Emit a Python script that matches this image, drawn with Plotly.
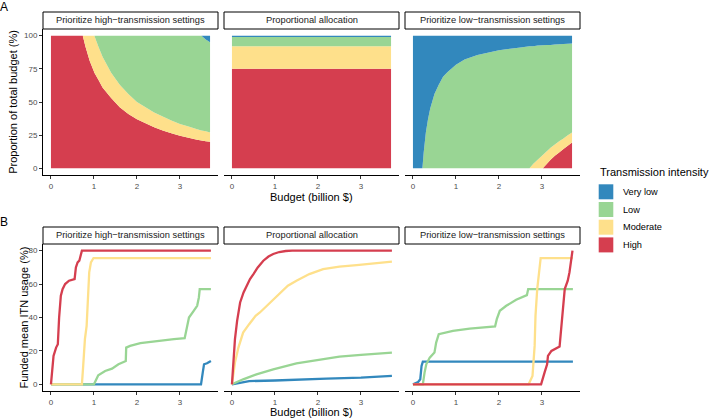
import plotly.graph_objects as go

# Transmission-intensity groups and their colours (Spectral palette)
groups = ['Very low', 'Low', 'Moderate', 'High']
colors = {'Very low': '#3288BD', 'Low': '#99D594', 'Moderate': '#FEE08B', 'High': '#D53E4F'}
strategies = ['Prioritize high\u2212transmission settings',
              'Proportional allocation',
              'Prioritize low\u2212transmission settings']

# ---- Panel A: share of total budget (%) by budget (billion $) ----
budget_a_hi = [0, 0.2, 0.4, 0.6, 0.74, 0.8, 0.9, 1.0, 1.01, 1.1, 1.2, 1.4, 1.6, 1.8, 2.0, 2.2, 2.4,
               2.6, 2.8, 3.0, 3.2, 3.4, 3.5, 3.6, 3.7]
share_hi_high = [100, 100, 100, 100, 100, 92, 81, 73, 72, 67, 61, 53, 46, 41, 37, 34, 31,
                 28.5, 26.5, 24.5, 23, 21.5, 21, 20.5, 20]
share_hi_mod = [0, 0, 0, 0, 0, 8, 19, 27, 28, 25, 23, 19, 17, 15, 13, 12, 11,
                10.5, 9.5, 9, 8.5, 8, 7.5, 7.5, 7]
share_hi_low = [0, 0, 0, 0, 0, 0, 0, 0, 0, 8, 16, 28, 37, 44, 50, 54, 58,
                61, 64, 66.5, 68.5, 70.5, 71.5, 69, 68]
share_hi_vlow = [0, 0, 0, 0, 0, 0, 0, 0, 0, 0, 0, 0, 0, 0, 0, 0, 0,
                 0, 0, 0, 0, 0, 0, 3, 5]

budget_a_prop = [0, 3.7]
share_prop_high = [75, 75]
share_prop_mod = [17, 17]
share_prop_low = [7, 7]
share_prop_vlow = [1, 1]

budget_a_lo = [0, 0.22, 0.25, 0.3, 0.35, 0.4, 0.5, 0.6, 0.7, 0.8, 1.0, 1.2, 1.5, 2.0, 2.5, 2.71,
               2.8, 2.9, 3.02, 3.1, 3.2, 3.3, 3.4, 3.5, 3.6, 3.7]
share_lo_vlow = [100, 100, 88, 73, 63, 55, 44, 37, 31, 27.5, 22, 18, 14.5, 11, 9, 8,
                 8, 7.5, 7.3, 7, 7, 6.7, 6.5, 6.3, 6.1, 6]
share_lo_low = [0, 0, 12, 27, 37, 45, 56, 63, 69, 72.5, 78, 82, 85.5, 89, 91, 92,
                88.5, 86, 82.7, 80.5, 77.5, 75.3, 73, 71.2, 68.9, 67]
share_lo_mod = [0, 0, 0, 0, 0, 0, 0, 0, 0, 0, 0, 0, 0, 0, 0, 0,
                3.5, 6.5, 10, 9.5, 9, 8.5, 8.5, 8, 8, 7.5]
share_lo_high = [0, 0, 0, 0, 0, 0, 0, 0, 0, 0, 0, 0, 0, 0, 0, 0,
                 0, 0, 0, 3, 6.5, 9.5, 12, 14.5, 17, 19.5]

# ---- Panel B: funded mean ITN usage (%) by budget (billion $) ----
b1_vlow_x = [0, 3.49, 3.53, 3.56, 3.63, 3.72]
b1_vlow_y = [0, 0, 7, 12, 12.6, 14]
b1_low_x = [0, 1.0, 1.1, 1.26, 1.42, 1.57, 1.69, 1.74, 1.75, 1.84, 2.08, 2.47, 2.86, 3.11, 3.15,
            3.21, 3.32, 3.4, 3.44, 3.46, 3.72]
b1_low_y = [0, 0, 5.4, 8, 9.4, 12, 13.4, 14, 22, 23, 24.6, 26, 27, 27.6, 32,
            40, 44, 47, 52, 57, 57]
b1_mod_x = [0, 0.72, 0.75, 0.79, 0.83, 0.86, 0.89, 0.93, 0.99, 3.72]
b1_mod_y = [0, 0, 11, 27, 35, 51, 67, 73, 75.6, 75.6]
b1_high_x = [0, 0.03, 0.06, 0.12, 0.16, 0.19, 0.23, 0.27, 0.33, 0.42, 0.55, 0.58, 0.62, 0.66,
             0.69, 0.72, 3.72]
b1_high_y = [0, 10, 17, 22, 24, 40, 53, 57, 60, 62, 63, 70, 73, 74, 78, 80, 80]

b2_vlow_x = [0, 0.2, 0.34, 0.4, 1.0, 2.12, 2.2, 3.0, 3.72]
b2_vlow_y = [0, 0.8, 1.4, 1.9, 2.3, 3, 3.4, 4, 5]
b2_low_x = [0, 0.26, 0.57, 0.96, 1.5, 1.97, 2.1, 2.28, 2.5, 3.0, 3.72]
b2_low_y = [0, 3, 6, 9, 12.6, 14.4, 15.2, 15.6, 16.6, 17.6, 19]
b2_mod_x = [0, 0.07, 0.15, 0.26, 0.4, 0.55, 0.65, 0.85, 1.12, 1.3, 1.5, 1.8, 2.12, 2.5, 2.9, 3.3, 3.72]
b2_mod_y = [0, 13, 22, 31, 36, 41, 43, 48, 55, 59, 62, 66, 69, 70.5, 71.4, 72.3, 73.4]
b2_high_x = [0, 0.03, 0.07, 0.12, 0.19, 0.27, 0.34, 0.42, 0.5, 0.6, 0.73, 0.85, 0.96, 1.1, 1.25,
             1.4, 3.72]
b2_high_y = [0, 14, 27, 38, 49, 55, 59, 63, 66, 70, 74, 76.5, 78, 79.2, 79.8, 80, 80]

b3_vlow_x = [0, 0.12, 0.17, 0.2, 0.23, 3.72]
b3_vlow_y = [0, 1.4, 3, 11, 13.6, 13.6]
b3_low_x = [0, 0.23, 0.27, 0.31, 0.39, 0.5, 0.54, 0.6, 0.93, 1.32, 1.91, 1.95, 2.02, 2.17, 2.4,
            2.65, 2.68, 3.72]
b3_low_y = [0, 0, 7, 12, 16, 19, 25, 30, 32, 33.4, 34.6, 39, 44, 47, 50.6, 53.4, 57, 57]
b3_mod_x = [0, 2.69, 2.78, 2.83, 2.85, 2.89, 2.97, 3.72]
b3_mod_y = [0, 0, 5, 23, 41, 57, 75.6, 75.6]
b3_high_x = [0, 2.98, 3.06, 3.12, 3.14, 3.22, 3.41, 3.49, 3.53, 3.6, 3.64, 3.71]
b3_high_y = [0, 0, 7, 12, 17, 20, 22.6, 47, 57, 62, 67, 80]

area_data = [
    (budget_a_hi, {'High': share_hi_high, 'Moderate': share_hi_mod, 'Low': share_hi_low, 'Very low': share_hi_vlow}),
    (budget_a_prop, {'High': share_prop_high, 'Moderate': share_prop_mod, 'Low': share_prop_low, 'Very low': share_prop_vlow}),
    (budget_a_lo, {'High': share_lo_high, 'Moderate': share_lo_mod, 'Low': share_lo_low, 'Very low': share_lo_vlow}),
]
line_data = [
    {'Very low': (b1_vlow_x, b1_vlow_y), 'Low': (b1_low_x, b1_low_y), 'Moderate': (b1_mod_x, b1_mod_y), 'High': (b1_high_x, b1_high_y)},
    {'Very low': (b2_vlow_x, b2_vlow_y), 'Low': (b2_low_x, b2_low_y), 'Moderate': (b2_mod_x, b2_mod_y), 'High': (b2_high_x, b2_high_y)},
    {'Very low': (b3_vlow_x, b3_vlow_y), 'Low': (b3_low_x, b3_low_y), 'Moderate': (b3_mod_x, b3_mod_y), 'High': (b3_high_x, b3_high_y)},
]

# ---- layout helpers (pixel -> paper) ----
W, H = 709, 419
FONT = 'Liberation Sans, Arial, sans-serif'


def fx(px):
    return px / W


def fy(py):
    return 1 - py / H


panel_x = [(43, 218), (224, 399), (405, 580)]
row_y = [(29, 175), (244, 391)]
strip_y = [(12, 29), (227, 244)]

fig = go.Figure()

# Panel A stacked areas (High at the bottom)
for c, (bx, shares) in enumerate(area_data):
    for g in ['High', 'Moderate', 'Low', 'Very low']:
        fig.add_trace(go.Scatter(x=bx, y=shares[g], mode='none', stackgroup='a%d' % c,
                                 fillcolor=colors[g], line=dict(width=0), name=g,
                                 showlegend=False, xaxis='x%d' % (c + 1), yaxis='y%d' % (c + 1)))

# Panel B lines
for c, lines in enumerate(line_data):
    for g in groups:
        lx, ly = lines[g]
        fig.add_trace(go.Scatter(x=lx, y=ly, mode='lines', line=dict(color=colors[g], width=2.3),
                                 name=g, showlegend=False,
                                 xaxis='x%d' % (c + 4), yaxis='y%d' % (c + 4)))

layout = dict(width=W, height=H, margin=dict(l=0, r=0, t=0, b=0),
              paper_bgcolor='white', plot_bgcolor='white', showlegend=False,
              font=dict(family=FONT, color='black'))
shapes = []
annotations = []
tickfont = dict(family=FONT, size=8, color='#4D4D4D')

for r in range(2):
    y0, y1 = row_y[r]
    for c in range(3):
        i = r * 3 + c + 1
        x0, x1 = panel_x[c]
        layout['xaxis%d' % i] = dict(domain=[fx(x0), fx(x1)], anchor='y%d' % i,
                                     range=[-0.185, 3.885], tickvals=[0, 1, 2, 3],
                                     showline=True, linecolor='black', linewidth=1,
                                     ticks='outside', ticklen=3, tickcolor='#333333',
                                     tickfont=tickfont, showgrid=False, zeroline=False)
        yrange = [-5, 105] if r == 0 else [-4, 84]
        yticks = [0, 25, 50, 75, 100] if r == 0 else [0, 20, 40, 60, 80]
        layout['yaxis%d' % i] = dict(domain=[fy(y1), fy(y0)], anchor='x%d' % i,
                                     range=yrange, tickvals=yticks,
                                     showline=(c == 0), linecolor='black', linewidth=1,
                                     ticks='outside' if c == 0 else '', ticklen=3,
                                     tickcolor='#333333', showticklabels=(c == 0),
                                     tickfont=tickfont, showgrid=False, zeroline=False)
        # facet strip
        s0, s1 = strip_y[r]
        shapes.append(dict(type='rect', xref='paper', yref='paper',
                           x0=fx(x0), x1=fx(x1), y0=fy(s1), y1=fy(s0),
                           line=dict(color='black', width=1), fillcolor='white'))
        annotations.append(dict(text=strategies[c], xref='paper', yref='paper',
                                x=fx((x0 + x1) / 2), y=fy((s0 + s1) / 2), showarrow=False,
                                font=dict(size=9.3, color='#1A1A1A'),
                                xanchor='center', yanchor='middle'))

# axis titles and panel tags
annotations += [
    dict(text='Budget (billion $)', x=fx(311.5), y=fy(197), font=dict(size=11)),
    dict(text='Budget (billion $)', x=fx(311.5), y=fy(411.5), font=dict(size=11)),
    dict(text='Proportion of total budget (%)', x=fx(12.8), y=fy(102), textangle=-90, font=dict(size=11)),
    dict(text='Funded mean ITN usage (%)', x=fx(23), y=fy(317.5), textangle=-90, font=dict(size=11)),
    dict(text='A', x=fx(3.5), y=fy(7.5), font=dict(size=12)),
    dict(text='B', x=fx(3.5), y=fy(221.5), font=dict(size=12)),
]
for a in annotations[-6:]:
    a.update(xref='paper', yref='paper', showarrow=False, xanchor='center', yanchor='middle')

# manual legend
annotations.append(dict(text='Transmission intensity', xref='paper', yref='paper',
                        x=fx(598), y=fy(172), showarrow=False, xanchor='left',
                        yanchor='middle', font=dict(size=11)))
key_top = [184.3, 202, 219.7, 237.4]
for g, kt in zip(groups, key_top):
    shapes.append(dict(type='rect', xref='paper', yref='paper', x0=fx(598.7), x1=fx(613.3),
                       y0=fy(kt + 15), y1=fy(kt), line=dict(width=0), fillcolor=colors[g]))
    annotations.append(dict(text=g, xref='paper', yref='paper', x=fx(621), y=fy(kt + 7.5),
                            showarrow=False, xanchor='left', yanchor='middle',
                            font=dict(size=9.2)))

layout['shapes'] = shapes
layout['annotations'] = annotations
fig.update_layout(**layout)

# page body has a default 8px margin; drop it so the figure fills the window
fig.write_html('out.html', config={'displayModeBar': False},
               post_script="document.body.style.margin = '0px';")
